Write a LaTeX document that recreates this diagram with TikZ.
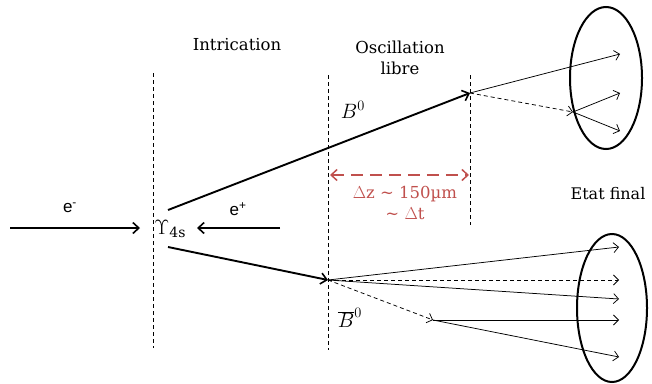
\documentclass[tikz,border=0pt]{standalone}
\usepackage{fontspec}
\setmainfont{DejaVu Serif}
\newfontfamily\sansf{Liberation Sans}
\usetikzlibrary{arrows.meta,shapes.geometric}
\definecolor{redd}{RGB}{192,80,77}
\tikzset{
  sep/.style={line width=0.8pt, dash pattern=on 4pt off 3pt},
  beam/.style={line width=1.9pt, -{Straight Barb[length=6pt,width=11pt,line width=1.6pt]}},
  track/.style={line width=0.75pt, -{Straight Barb[length=5pt,width=10pt]}},
  dtrack/.style={track, dash pattern=on 4pt off 3pt},
  ring/.style={draw, line width=2pt, ellipse},
  lbl/.style={font=\fontsize{16.5}{21}\selectfont, inner sep=0pt},
  slbl/.style={font=\sansf\fontsize{17}{20}\selectfont, inner sep=0pt},
  mlbl/.style={font=\fontsize{20.5}{24}\selectfont, inner sep=0pt},
}
\begin{document}
\begin{tikzpicture}[x=1pt,y=-1pt]
\useasboundingbox (0,0) rectangle (652,383);
% separators
\coordinate (s1t) at (153,73); \coordinate (s1b) at (153,348);
\coordinate (s2t) at (328,75); \coordinate (s2b) at (328,350);
\coordinate (s3t) at (470,75); \coordinate (s3b) at (470,225);
\draw[sep] (s1t) -- (s1b);
\draw[sep] (s2t) -- (s2b);
\draw[sep] (s3t) -- (s3b);
% labels
\node[lbl] (intr) at (237,45) {Intrication};
\node[lbl, align=center] (osc) at (400,58) {Oscillation\\libre};
\node[lbl, font=\fontsize{16}{19}\selectfont] (etat) at (608,194) {Etat final};
% beams
\coordinate (em) at (10,228); \coordinate (ema) at (140,228);
\coordinate (ep) at (280,228); \coordinate (epa) at (197,228);
\draw[beam] (em) -- (ema);
\draw[beam] (ep) -- (epa);
\node[slbl] (elab) at (70,208) {e\textsuperscript{-}};
\node[slbl] (plab) at (238,209) {e\textsuperscript{+}};
\node[lbl] (ups) at (170,229) {\fontsize{20}{22}\selectfont$\Upsilon$\raisebox{-3pt}{\fontsize{14}{16}\selectfont 4s}};
% B mesons
\coordinate (b0s) at (168,210); \coordinate (b0e) at (470,93);
\coordinate (bbs) at (168,247); \coordinate (bbe) at (328,280);
\draw[beam] (b0s) -- (b0e);
\draw[beam] (bbs) -- (bbe);
\node[mlbl] (b0l) at (353,110) {$B^0$};
\node[mlbl] (bbl) at (350,318) {$\overline{B}^0$};
% delta z
\coordinate (dzl) at (330,175); \coordinate (dzr) at (469,175);
\draw[redd, line width=1.8pt, dash pattern=on 12pt off 7pt, {Straight Barb[length=6pt,width=11pt,line width=1.5pt]}-{Straight Barb[length=6pt,width=11pt,line width=1.5pt]}] (dzl) -- (dzr);
\node[lbl, text=redd, align=center] (dz) at (405,203) {$\Delta$z \textasciitilde{} 150µm\\\textasciitilde{} $\Delta$t};
% upper final state
\node[ring, minimum width=72pt, minimum height=142pt] (ell1) at (606,78) {};
\coordinate (u1) at (620,54); \coordinate (uk) at (573,112);
\coordinate (u2) at (620,93); \coordinate (u3) at (620,131);
\draw[track] (b0e) -- (u1);
\draw[dtrack] (b0e) -- (uk);
\draw[track] (uk) -- (u2);
\draw[track] (uk) -- (u3);
% lower final state
\node[ring, minimum width=70pt, minimum height=148pt] (ell2) at (612,308) {};
\coordinate (l1) at (619,247); \coordinate (l2) at (619,280);
\coordinate (l3) at (619,299); \coordinate (lk) at (433,320);
\coordinate (l4) at (619,320); \coordinate (l5) at (619,357);
\draw[track] (bbe) -- (l1);
\draw[dtrack] (bbe) -- (l2);
\draw[track] (bbe) -- (l3);
\draw[dtrack] (bbe) -- (lk);
\draw[track] (lk) -- (l4);
\draw[track] (lk) -- (l5);
\end{tikzpicture}
\end{document}
